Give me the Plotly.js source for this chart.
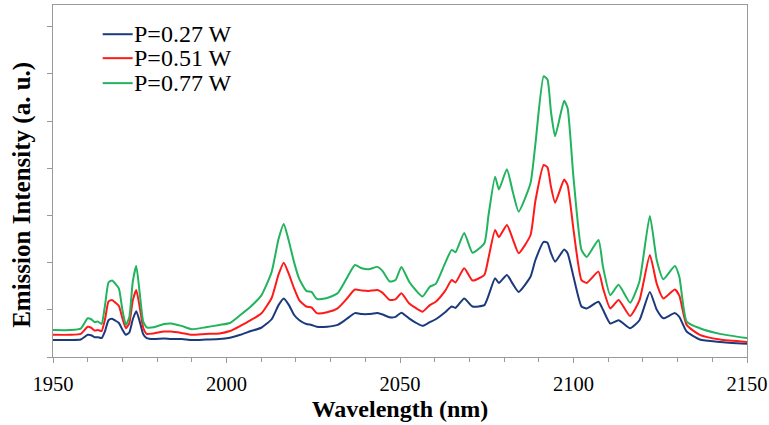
<!DOCTYPE html>
<html>
<head>
<meta charset="utf-8">
<script src="https://cdn.plot.ly/plotly-3.0.1.min.js"></script>
<style>html,body{margin:0;padding:0;background:#fff;}#chart{width:769px;height:425px;}</style>
</head>
<body>
<div id="chart"></div>
<script>
const wavelength = [1950,1955,1958,1960,1961,1962,1963,1964,1965,1966,1967,1968,1969,1970,1971,1972,1973,1974,1975,1976,1977,1979,1982,1984,1987,1990,1994,1998,2001,2004,2007,2010,2013,2015,2016.5,2018,2019.5,2021,2023,2024.5,2026,2029,2032,2034.5,2037,2039,2041,2043.5,2045,2047,2048.7,2050.4,2052.6,2054.5,2056.5,2058.6,2060.3,2063,2064.9,2066,2068.5,2070.9,2074.3,2075.5,2077.4,2078.5,2080.8,2082.5,2084.2,2087.6,2089,2091.4,2092.5,2093.5,2094.7,2097.3,2098.3,2100,2102.3,2103.8,2107.2,2108.5,2110.6,2113,2116.3,2119,2122,2124,2125.9,2129.2,2130.5,2132.6,2136.4,2142.2,2150];
const p027 = [0.36,0.36,0.37,0.47,0.46,0.42,0.42,0.40,0.55,0.78,0.81,0.77,0.72,0.58,0.47,0.52,0.80,0.97,0.75,0.48,0.40,0.38,0.39,0.38,0.38,0.36,0.37,0.38,0.41,0.47,0.55,0.62,0.80,1.10,1.24,1.10,0.89,0.78,0.70,0.68,0.64,0.64,0.68,0.80,0.93,0.91,0.91,0.93,0.90,0.84,0.85,0.94,0.82,0.73,0.66,0.74,0.80,0.95,1.07,1.04,1.24,1.07,1.10,1.30,1.67,1.57,1.74,1.55,1.38,1.70,2.05,2.44,2.42,2.20,2.02,2.28,2.20,1.70,1.07,1.03,1.17,1.00,0.71,0.78,0.61,0.78,1.38,1.00,0.82,0.93,0.85,0.54,0.37,0.32,0.28];
const p051 = [0.47,0.47,0.49,0.64,0.62,0.56,0.57,0.55,0.80,1.18,1.21,1.15,1.08,0.82,0.61,0.72,1.20,1.42,1.05,0.62,0.49,0.50,0.54,0.54,0.51,0.47,0.49,0.50,0.55,0.66,0.78,0.92,1.25,1.75,2.00,1.75,1.45,1.20,1.07,1.05,0.93,0.95,1.03,1.22,1.43,1.41,1.40,1.42,1.36,1.21,1.22,1.35,1.14,1.04,0.96,1.10,1.17,1.40,1.63,1.58,1.88,1.62,1.74,2.10,2.69,2.54,2.80,2.50,2.20,2.58,3.30,4.07,4.02,3.61,3.27,3.76,3.64,2.70,1.63,1.57,1.81,1.46,1.03,1.21,0.87,1.20,2.16,1.55,1.24,1.43,1.30,0.68,0.47,0.37,0.32];
const p077 = [0.57,0.57,0.60,0.82,0.80,0.74,0.75,0.70,1.10,1.58,1.62,1.55,1.45,1.00,0.68,0.85,1.60,1.93,1.35,0.75,0.63,0.63,0.70,0.71,0.66,0.59,0.63,0.68,0.72,0.89,1.07,1.30,1.80,2.50,2.82,2.45,2.00,1.65,1.40,1.38,1.23,1.25,1.35,1.65,1.95,1.88,1.86,1.91,1.82,1.60,1.63,1.91,1.60,1.42,1.28,1.49,1.55,1.99,2.27,2.22,2.63,2.21,2.41,3.00,3.82,3.55,3.98,3.50,3.08,3.68,4.50,5.95,5.88,5.20,4.68,5.43,5.27,3.80,2.27,2.12,2.48,1.91,1.31,1.53,1.15,1.60,2.99,2.05,1.65,1.93,1.70,0.75,0.61,0.49,0.40];
const seriesNames = ['P=0.27 W','P=0.51 W','P=0.77 W'];
const seriesColors = ['#1b3a7c','#ff1a1a','#22b35e'];
const xTickVals = [1950,2000,2050,2100,2150];
const xTickText = ['1950','2000','2050','2100','2150'];

const serif = '"Liberation Serif", "Times New Roman", serif';
const traces = [p027,p051,p077].map((ys,i)=>({
  x: wavelength, y: ys, type:'scatter', mode:'lines', name: seriesNames[i], showlegend:false,
  line:{color:seriesColors[i], width:2, shape:'spline', smoothing:0.5}
}));

// manual legend (compact row spacing as in the original)
const legRowY = [0.917, 0.849, 0.778];
const shapes = [], annotations = [];
seriesNames.forEach((n,i)=>{
  shapes.push({type:'line', xref:'paper', yref:'paper', x0:0.0716, x1:0.1148, y0:legRowY[i], y1:legRowY[i],
               line:{color:seriesColors[i], width:2}});
  annotations.push({xref:'paper', yref:'paper', x:0.1155, y:legRowY[i], xanchor:'left', yanchor:'middle',
               text:n, showarrow:false, borderpad:0, font:{family:serif, size:24, color:'#000'}});
});
annotations.push({xref:'paper', yref:'paper', x:-0.045, y:0.46, xanchor:'center', yanchor:'middle',
  text:'<b>Emission Intensity (a. u.)</b>', textangle:-90, showarrow:false,
  font:{family:serif, size:25, color:'#000'}});

const layout = {
  width:769, height:425,
  margin:{l:53, r:22, t:5, b:68},
  paper_bgcolor:'#fff', plot_bgcolor:'#fff',
  font:{family:serif, color:'#000', size:20},
  showlegend:false,
  shapes: shapes, annotations: annotations,
  xaxis:{range:[1950,2150], tickmode:'array', tickvals:xTickVals, ticktext:xTickText,
         ticks:'outside', ticklen:5, tickcolor:'#999', tickwidth:1,
         minor:{dtick:10, ticks:'outside', ticklen:4, tickcolor:'#999', showgrid:false},
         showline:true, linecolor:'#999', linewidth:1, mirror:true, showgrid:false, zeroline:false,
         tickfont:{family:serif, size:20.5, color:'#000'}, ticklabelstandoff:3,
         title:{text:'<b>Wavelength (nm)</b>', font:{family:serif, size:24, color:'#000'}, standoff:6}},
  xaxis2:{range:[1950,2150], overlaying:'x', anchor:'y', side:'bottom', tickmode:'array', tickvals:xTickVals,
         ticks:'inside', ticklen:6, tickcolor:'#999', showticklabels:false, showline:false, showgrid:false, zeroline:false},
  yaxis:{range:[0,7.46], dtick:1, tick0:0, ticks:'outside', ticklen:5, tickcolor:'#999',
         showticklabels:false, showline:true, linecolor:'#999', linewidth:1, mirror:true, showgrid:false, zeroline:false}
};
Plotly.newPlot('chart', traces, layout, {displayModeBar:false, staticPlot:true});
</script>
</body>
</html>
